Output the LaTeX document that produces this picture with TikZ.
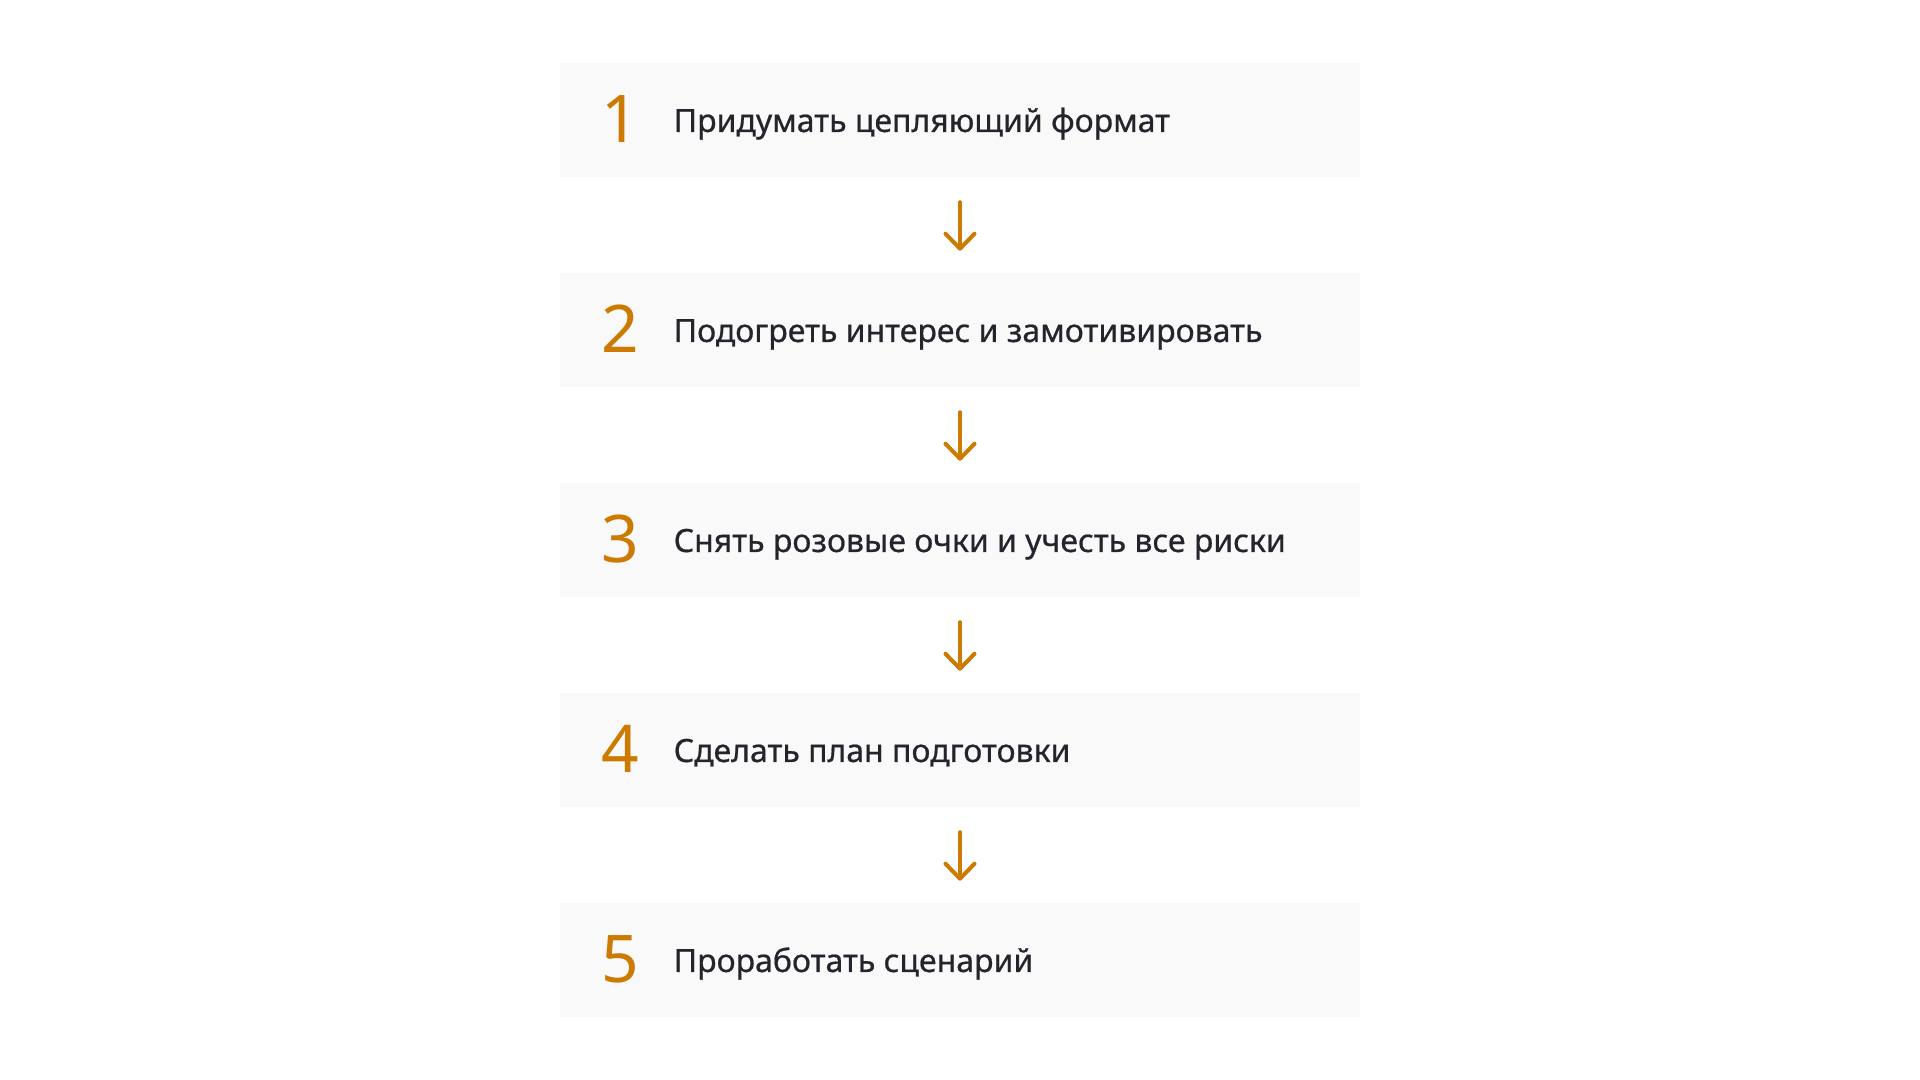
\documentclass[tikz,border=0pt]{standalone}
\usepackage{fontspec}
\setmainfont{Noto Sans}
\newfontfamily\stepfont[FakeBold=0.6]{Noto Sans}
\usetikzlibrary{arrows.meta}
\definecolor{stepfill}{HTML}{F9F9F9}
\definecolor{numcolor}{HTML}{CC7A00}
\definecolor{textcolor}{HTML}{24242C}

\begin{document}
\begin{tikzpicture}
[x=0.01cm,y=-0.01cm,>={Straight Barb[length=1.5mm,width=2.9mm,round]},
stepbox/.style={fill=stepfill,minimum width=8cm,minimum height=1.13cm,inner sep=0pt},
num/.style={anchor=base,inner sep=0pt,text=numcolor,font=\fontsize{18.7}{20}\selectfont},
txt/.style={anchor=base west,inner sep=0pt,text=textcolor,font=\stepfont\fontsize{9.1}{11}\selectfont},
link/.style={->,draw=numcolor,line width=0.4mm,line cap=round},]

\path[use as bounding box,fill=white] (0,0) rectangle (1920,1080);

\node (S1) at (960,120)[stepbox]{};
\node (S2) at (960,330)[stepbox]{};
\node (S3) at (960,540)[stepbox]{};
\node (S4) at (960,750)[stepbox]{};
\node (S5) at (960,960)[stepbox]{};

\node (N1) at (620,143)[num]{1};
\node (N2) at (620,353)[num]{2};
\node (N3) at (620,563)[num]{3};
\node (N4) at (620,773)[num]{4};
\node (N5) at (620,983)[num]{5};

\node (T1) at (673,132)[txt]{Придумать цепляющий формат};
\node (T2) at (673,342)[txt]{Подогреть интерес и замотивировать};
\node (T3) at (673,552)[txt]{Снять розовые очки и учесть все риски};
\node (T4) at (673,762)[txt]{Сделать план подготовки};
\node (T5) at (673,972)[txt]{Проработать сценарий};

\draw[link] ([yshift=-2.5mm]S1.south) -- ([yshift=2.2mm]S2.north);
\draw[link] ([yshift=-2.5mm]S2.south) -- ([yshift=2.2mm]S3.north);
\draw[link] ([yshift=-2.5mm]S3.south) -- ([yshift=2.2mm]S4.north);
\draw[link] ([yshift=-2.5mm]S4.south) -- ([yshift=2.2mm]S5.north);

\end{tikzpicture}
\end{document}
